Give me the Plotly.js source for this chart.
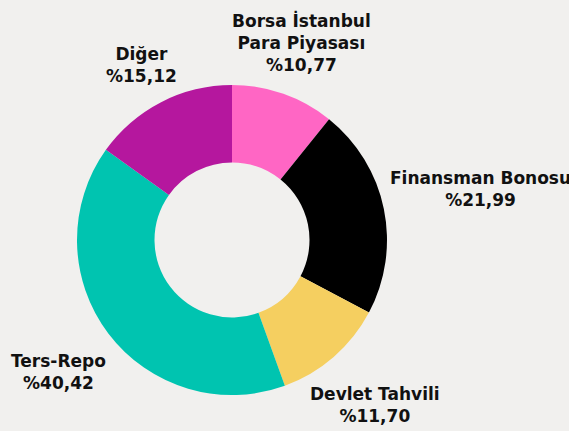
<!DOCTYPE html>
<html>
<head>
<meta charset="utf-8">
<script src="https://cdn.plot.ly/plotly-3.0.1.min.js"></script>
<style>html,body{margin:0;padding:0;background:#f1f0ee;}</style>
</head>
<body>
<div id="chart" style="width:569px;height:431px;"></div>
<script>
const categories = ["Borsa İstanbul<br>Para Piyasası", "Finansman Bonosu", "Devlet Tahvili", "Ters-Repo", "Diğer"];
const shares = [10.77, 21.99, 11.70, 40.42, 15.12];
const colors = ["#ff66c4", "#000000", "#f5cf60", "#00c4b0", "#b5179e"];

// label placement (style): distance of each label centre from the pie centre, in px
const labelDistance = [209, 254, 218, 218, 197];

const W = 569, H = 431;
const dom = {x: [77 / W, 387 / W], y: [1 - 395 / H, 1 - 85 / H]};
const cx = (dom.x[0] + dom.x[1]) / 2 * W;
const cy = (1 - (dom.y[0] + dom.y[1]) / 2) * H;

const fmt = v => "%" + v.toFixed(2).replace(".", ",");
const total = shares.reduce((a, b) => a + b, 0);
let cum = 0;
const annotations = shares.map((v, i) => {
  const ang = 2 * Math.PI * (cum + v / 2) / total;
  cum += v;
  const px = cx + labelDistance[i] * Math.sin(ang);
  const py = cy - labelDistance[i] * Math.cos(ang);
  return {
    xref: "paper", yref: "paper",
    x: px / W, y: 1 - py / H,
    xanchor: "center", yanchor: "middle",
    text: categories[i] + "<br>" + fmt(v),
    showarrow: false,
    align: "center",
    font: {family: "DejaVu Sans, sans-serif", size: 17, color: "#111111", weight: 700}
  };
});

const trace = {
  type: "pie",
  labels: categories,
  values: shares,
  sort: false,
  direction: "clockwise",
  rotation: 0,
  hole: 0.5,
  marker: {colors: colors, line: {width: 0}},
  textinfo: "none",
  automargin: false,
  showlegend: false,
  domain: dom
};

const layout = {
  width: W, height: H,
  margin: {l: 0, r: 0, t: 0, b: 0},
  paper_bgcolor: "#f1f0ee",
  plot_bgcolor: "#f1f0ee",
  separators: ",.",
  showlegend: false,
  annotations: annotations
};

Plotly.newPlot("chart", [trace], layout, {displayModeBar: false, staticPlot: true});
</script>
</body>
</html>
